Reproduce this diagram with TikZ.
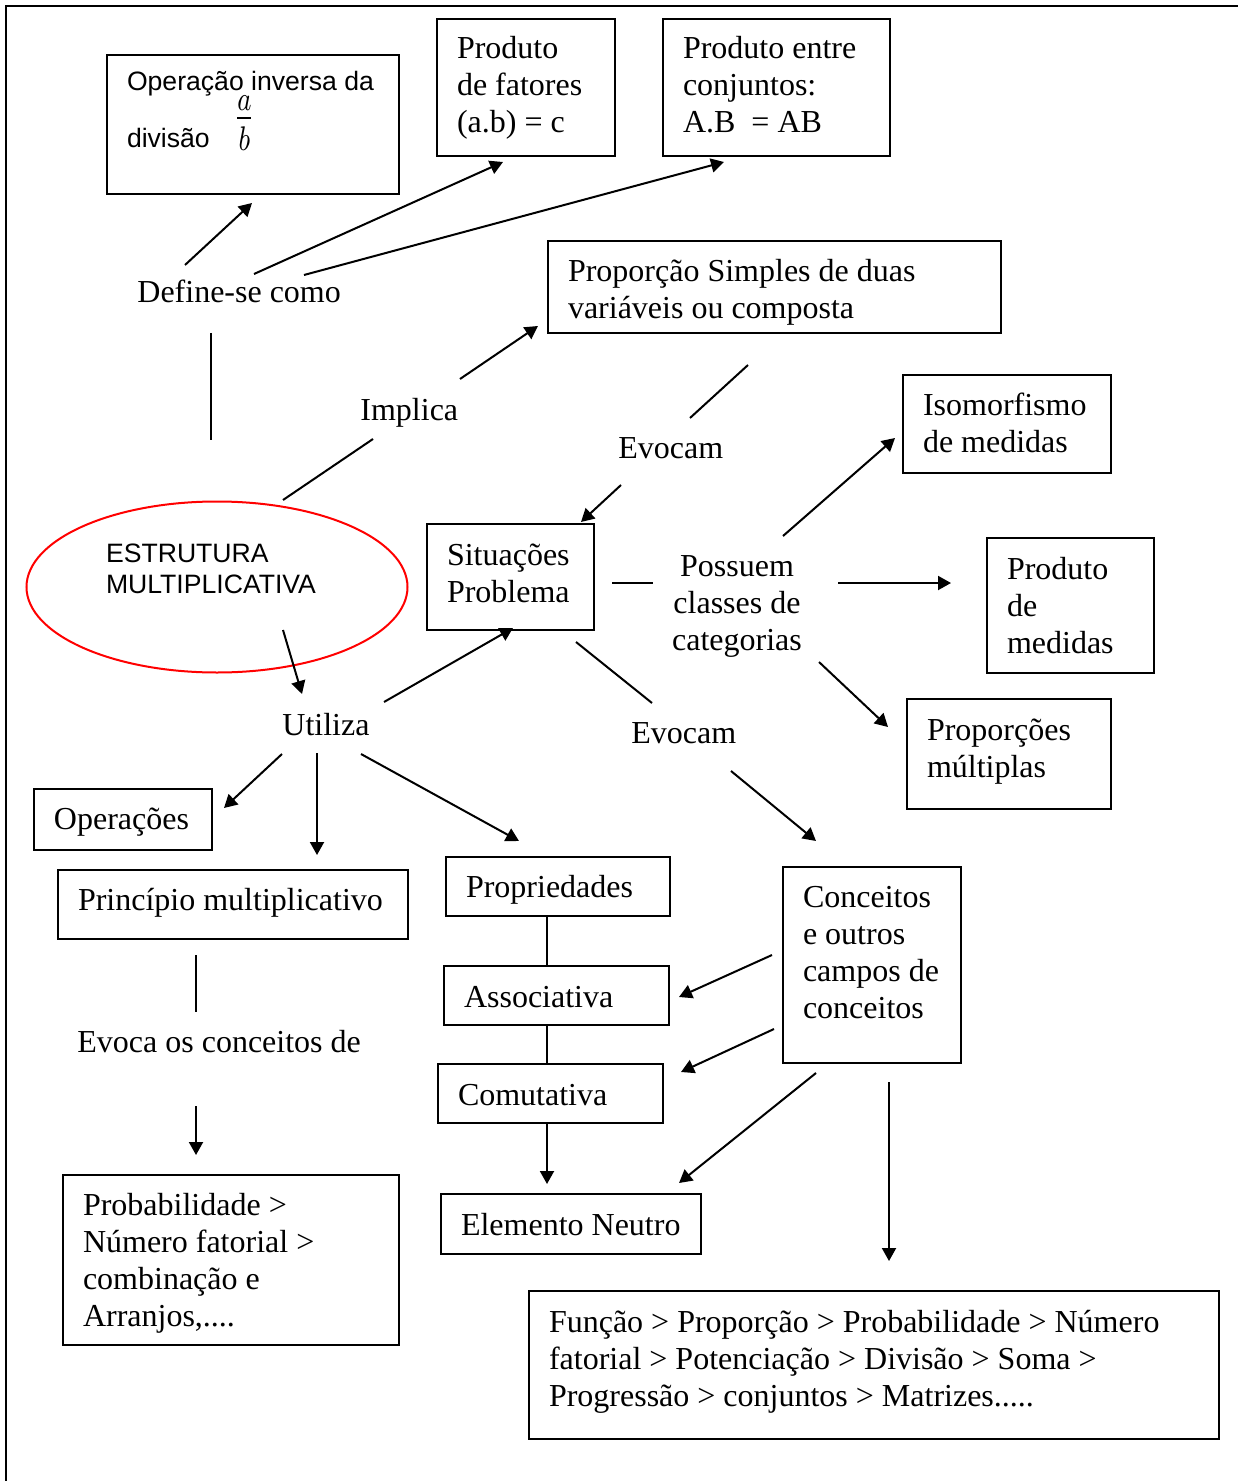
\documentclass[tikz,border=0pt]{standalone}
\usepackage{fontspec}
\setmainfont{Liberation Serif}
\newfontfamily\arialfont{Liberation Sans}
\usetikzlibrary{arrows.meta,shapes.geometric}

\tikzset{
	caixa/.style={draw, line width=1pt, anchor=north west, align=flush left, inner xsep=10pt, inner ysep=0pt, font=\fontsize{16pt}{18.5pt}\selectfont},
	rotulo/.style={anchor=base west, inner sep=0pt, font=\fontsize{16pt}{18.5pt}\selectfont},
	sans/.style={font=\arialfont\fontsize{13.3pt}{15.5pt}\selectfont},
	seta/.style={line width=1pt, -{Triangle[length=6.5pt,width=7pt]}},
	liga/.style={line width=1pt},
}

\begin{document}
\begin{tikzpicture}[x=0.5pt, y=-0.5pt]
		\useasboundingbox (0,0) rectangle (1238,1481);

		\coordinate (def_inv) at (185,265);
		\coordinate (inv_def) at (252,203);
		\coordinate (def_fat) at (254,274);
		\coordinate (fat_def) at (503,162);
		\coordinate (def_cnj) at (304,275);
		\coordinate (cnj_def) at (724,162);
		\coordinate (def_est) at (211,333);
		\coordinate (est_def) at (211,440);
		\coordinate (est_imp) at (283,500);
		\coordinate (imp_est) at (373,439);
		\coordinate (imp_ppr) at (460,379);
		\coordinate (ppr_imp) at (538,326);
		\coordinate (ppr_evo) at (748,365);
		\coordinate (evo_ppr) at (690,418);
		\coordinate (evo_sit) at (621,485);
		\coordinate (sit_evo) at (581,522);
		\coordinate (pos_iso) at (783,536);
		\coordinate (iso_pos) at (895,438);
		\coordinate (sit_pos) at (612,583);
		\coordinate (pos_sit) at (653,583);
		\coordinate (pos_med) at (838,583);
		\coordinate (med_pos) at (951,583);
		\coordinate (pos_mul) at (819,662);
		\coordinate (mul_pos) at (888,727);
		\coordinate (est_uti) at (283,630);
		\coordinate (uti_est) at (302,694);
		\coordinate (uti_sit) at (384,702);
		\coordinate (sit_uti) at (513,628);
		\coordinate (sit_evb) at (576,642);
		\coordinate (evb_sit) at (652,703);
		\coordinate (evb_con) at (731,771);
		\coordinate (con_evb) at (816,841);
		\coordinate (uti_ope) at (282,754);
		\coordinate (ope_uti) at (224,808);
		\coordinate (uti_pri) at (317,753);
		\coordinate (pri_uti) at (317,855);
		\coordinate (uti_prp) at (361,754);
		\coordinate (prp_uti) at (519,841);
		\coordinate (pri_evc) at (196,955);
		\coordinate (evc_pri) at (196,1012);
		\coordinate (evc_prb) at (196,1106);
		\coordinate (prb_evc) at (196,1155);
		\coordinate (con_ass) at (772,955);
		\coordinate (ass_con) at (679,997);
		\coordinate (con_com) at (774,1029);
		\coordinate (com_con) at (681,1072);
		\coordinate (con_neu) at (816,1073);
		\coordinate (neu_con) at (679,1183);
		\coordinate (con_seq) at (889,1082);
		\coordinate (seq_con) at (889,1261);
		\coordinate (eixo) at (547,0);

		% moldura
		\draw[line width=1.25pt] (6,1481) -- (6,6) -- (1238,6);

		% caixas
		\node[caixa, sans, text width=126pt, text height=18pt, text depth=51.5pt] (inversa) at (106,54) {Operação inversa da\\[13pt]divisão\hspace{12pt}\raisebox{8.2pt}[0pt][0pt]{\scalebox{1.45}[1.9]{$\frac{a}{b}$}}};
		\node[caixa, text width=69pt, text height=20pt, text depth=48.5pt] (fatores) at (436,18) {Produto\\de fatores\\(a.b) = c};
		\node[caixa, text width=93.5pt, text height=20pt, text depth=48.5pt] (conjuntos) at (662,18) {Produto entre\\conjuntos:\\A.B\ \ = AB};
		\node[caixa, text width=206.5pt, text height=20.5pt, text depth=25.5pt] (proporcao) at (547,240) {Proporção Simples de duas\\variáveis ou composta};
		\node[caixa, text width=84pt, text height=20pt, text depth=29pt] (isomorfismo) at (902,374) {Isomorfismo\\de medidas};
		\node[caixa, text width=63.5pt, text height=20.5pt, text depth=32.5pt] (situacoes) at (426,523) {Situações\\Problema};
		\node[caixa, text width=63.5pt, text height=20.5pt, text depth=47pt] (medidas) at (986,537) {Produto\\de\\medidas};
		\node[caixa, text width=82pt, text height=20.5pt, text depth=34.5pt] (multiplas) at (906,698) {Proporções\\múltiplas};
		\node[caixa, text width=69pt, text height=20pt, text depth=10.5pt] (operacoes) at (33,788) {Operações};
		\node[caixa, text width=155pt, text height=20pt, text depth=14.5pt] (principio) at (57,869) {Princípio multiplicativo};
		\node[caixa, text width=92pt, text height=20pt, text depth=9.5pt] (propriedades) at (445,856) {Propriedades};
		\node[caixa, text width=92.5pt, text height=20.5pt, text depth=9pt] (associativa) at (443,965) {Associativa};
		\node[caixa, text width=92.5pt, text height=20.5pt, text depth=9pt] (comutativa) at (437,1063) {Comutativa};
		\node[caixa, text width=110pt, text height=20.5pt, text depth=9.5pt] (neutro) at (440,1193) {Elemento Neutro};
		\node[caixa, text width=69pt, text height=20pt, text depth=78pt] (conceitos) at (782,866) {Conceitos\\e outros\\campos de\\conceitos};
		\node[caixa, text width=148pt, text height=20pt, text depth=65pt] (probabilidade) at (62,1174) {Probabilidade >\\Número fatorial >\\combinação e\\Arranjos,....};
		\node[caixa, text width=325pt, text height=20.5pt, text depth=53.5pt] (sequencia) at (528,1290) {Função > Proporção > Probabilidade > Número\\fatorial > Potenciação > Divisão > Soma >\\Progressão > conjuntos > Matrizes.....};

		\node[ellipse, draw=red, line width=1pt, sans, align=left, inner sep=0pt, minimum width=190.5pt, minimum height=85.5pt, text height=20pt, text depth=13.5pt] (estrutura) at (217,587) {ESTRUTURA\\MULTIPLICATIVA\hspace*{6pt}};

		% rotulos
		\node[rotulo] (define) at (137,303) {Define-se como};
		\node[rotulo] (implica) at (360,420) {Implica};
		\node[rotulo] (evocam) at (618,458) {Evocam};
		\node[rotulo, anchor=base, align=center] (possuem) at (737,650) {Possuem\\classes de\\categorias};
		\node[rotulo] (utiliza) at (282,735) {Utiliza};
		\node[rotulo] (evocamb) at (631,743) {Evocam};
		\node[rotulo] (evoca) at (77,1052) {Evoca os conceitos de};

		% ligacoes
		\draw[seta] (def_inv) -- (inv_def);
		\draw[seta] (def_fat) -- (fat_def);
		\draw[seta] (def_cnj) -- (cnj_def);
		\draw[liga] (def_est) -- (est_def);
		\draw[liga] (est_imp) -- (imp_est);
		\draw[seta] (imp_ppr) -- (ppr_imp);
		\draw[liga] (ppr_evo) -- (evo_ppr);
		\draw[seta] (evo_sit) -- (sit_evo);
		\draw[seta] (pos_iso) -- (iso_pos);
		\draw[liga] (sit_pos) -- (pos_sit);
		\draw[seta] (pos_med) -- (med_pos);
		\draw[seta] (pos_mul) -- (mul_pos);
		\draw[seta] (est_uti) -- (uti_est);
		\draw[seta] (uti_sit) -- (sit_uti);
		\draw[liga] (sit_evb) -- (evb_sit);
		\draw[seta] (evb_con) -- (con_evb);
		\draw[seta] (uti_ope) -- (ope_uti);
		\draw[seta] (uti_pri) -- (pri_uti);
		\draw[seta] (uti_prp) -- (prp_uti);
		\draw[liga] (pri_evc) -- (evc_pri);
		\draw[seta] (evc_prb) -- (prb_evc);
		\draw[liga] (propriedades.south -| eixo) -- (associativa.north -| eixo);
		\draw[liga] (associativa.south -| eixo) -- (comutativa.north -| eixo);
		\draw[seta, shorten >=4.5pt] (comutativa.south -| eixo) -- (neutro.north -| eixo);
		\draw[seta] (con_ass) -- (ass_con);
		\draw[seta] (con_com) -- (com_con);
		\draw[seta] (con_neu) -- (neu_con);
		\draw[seta] (con_seq) -- (seq_con);
	\end{tikzpicture}
\end{document}
